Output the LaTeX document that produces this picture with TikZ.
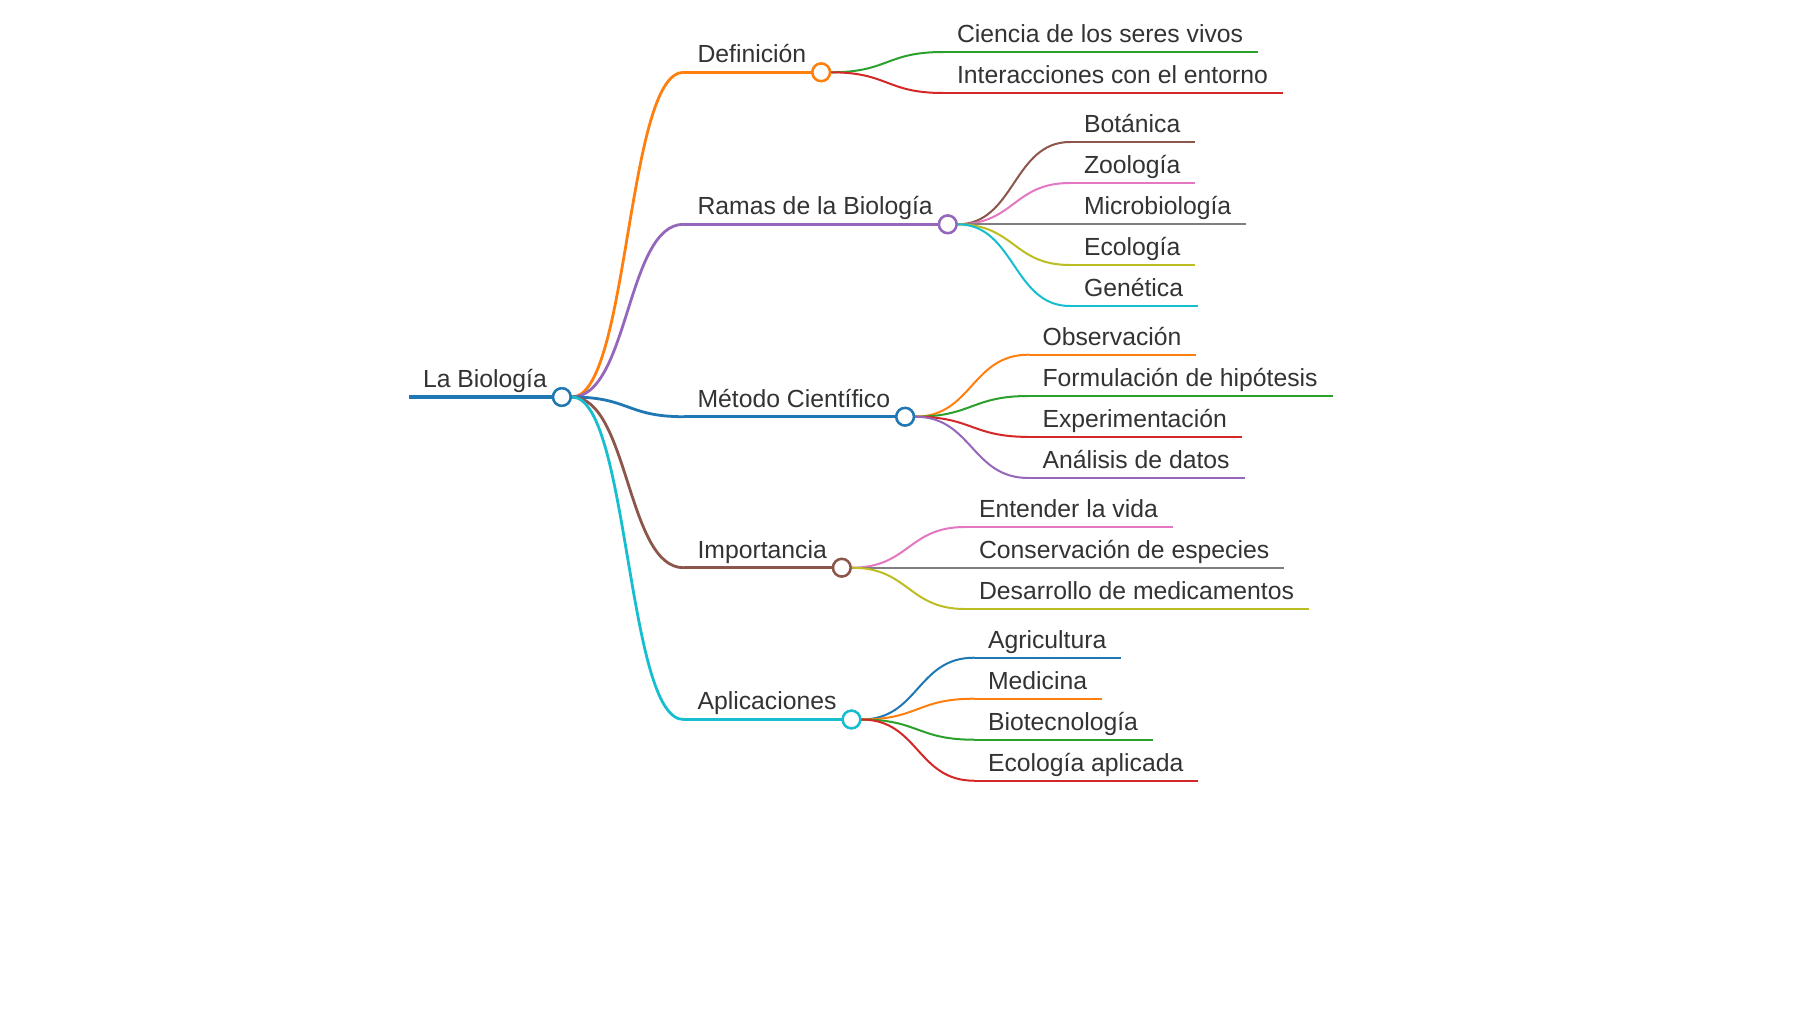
\documentclass[tikz,border=0pt]{standalone}
\usepackage{fontspec}
\setmainfont{Liberation Sans}
\usetikzlibrary{calc}
\definecolor{mmblue}{HTML}{1F77B4}
\definecolor{mmorange}{HTML}{FF7F0E}
\definecolor{mmgreen}{HTML}{2CA02C}
\definecolor{mmred}{HTML}{D62728}
\definecolor{mmpurple}{HTML}{9467BD}
\definecolor{mmbrown}{HTML}{8C564B}
\definecolor{mmpink}{HTML}{E377C2}
\definecolor{mmgray}{HTML}{7F7F7F}
\definecolor{mmolive}{HTML}{BCBD22}
\definecolor{mmcyan}{HTML}{17BECF}
\definecolor{txt}{HTML}{333333}
\newcommand\mmnode[6]{%
  \coordinate (#1s) at (#2,#3);
  \node[lbl] (#1) at (#2+14,#3-9.7) {#6};
  \coordinate (#1e) at ($(#1.east |- #1s)+(15,0)$);
  \draw[#5,#4] (#1s) -- (#1e);
}
\newcommand\mmhub[2]{\node[hub=#2] (#1c) at (#1e) {};}
\newcommand\mmlink[4]{\draw[#3,#4,line cap=round] (#1) .. controls +(57,0) and +(-57,0) .. (#2);}
\begin{document}
\begin{tikzpicture}[x=1pt,y=-1pt,
  lbl/.style={anchor=base west, inner xsep=0pt, inner ysep=0pt, outer sep=0pt,
    font=\fontsize{24.75}{29}\selectfont, text=txt},
  hub/.style={circle, draw=#1, fill=white, line width=2.4pt, minimum size=17.6pt, inner sep=0pt},
  w0/.style={line width=4pt},
  w1/.style={line width=2.8pt},
  w2/.style={line width=2pt}]
\useasboundingbox[fill=white] (0,0) rectangle (1800,1012);

% root
\mmnode{root}{409}{397}{mmblue}{w0}{La Biología}
\mmhub{root}{mmblue}

% level 1
\mmnode{def}{683.5}{72.3}{mmorange}{w1}{Definición}
\mmlink{rootc.east}{defs}{w1}{mmorange}
\mmhub{def}{mmorange}

\mmnode{ram}{683.5}{224.3}{mmpurple}{w1}{Ramas de la Biología}
\mmlink{rootc.east}{rams}{w1}{mmpurple}
\mmhub{ram}{mmpurple}

\mmnode{met}{683.5}{416.7}{mmblue}{w1}{Método Científico}
\mmlink{rootc.east}{mets}{w1}{mmblue}
\mmhub{met}{mmblue}

\mmnode{imp}{683.5}{567.7}{mmbrown}{w1}{Importancia}
\mmlink{rootc.east}{imps}{w1}{mmbrown}
\mmhub{imp}{mmbrown}

\mmnode{apl}{683.5}{719.5}{mmcyan}{w1}{Aplicaciones}
\mmlink{rootc.east}{apls}{w1}{mmcyan}
\mmhub{apl}{mmcyan}

\node[hub=mmblue] (rootc2) at (rootc) {};

% Definicion children
\mmnode{defa}{943}{52}{mmgreen}{w2}{Ciencia de los seres vivos}
\mmlink{defc.east}{defas}{w2}{mmgreen}
\mmnode{defb}{943}{93}{mmred}{w2}{Interacciones con el entorno}
\mmlink{defc.east}{defbs}{w2}{mmred}
\node[hub=mmorange] (defc2) at (defc) {};

% Ramas children
\mmnode{rama}{1070}{142}{mmbrown}{w2}{Botánica}
\mmlink{ramc.east}{ramas}{w2}{mmbrown}
\mmnode{ramb}{1070}{183}{mmpink}{w2}{Zoología}
\mmlink{ramc.east}{rambs}{w2}{mmpink}
\mmnode{ramcc}{1070}{224.3}{mmgray}{w2}{Microbiología}
\mmlink{ramc.east}{ramccs}{w2}{mmgray}
\mmnode{ramd}{1070}{265}{mmolive}{w2}{Ecología}
\mmlink{ramc.east}{ramds}{w2}{mmolive}
\mmnode{rame}{1070}{306}{mmcyan}{w2}{Genética}
\mmlink{ramc.east}{rames}{w2}{mmcyan}
\node[hub=mmpurple] (ramc2) at (ramc) {};

% Metodo children
\mmnode{meta}{1028.5}{354.7}{mmorange}{w2}{Observación}
\mmlink{metc.east}{metas}{w2}{mmorange}
\mmnode{metb}{1028.5}{396}{mmgreen}{w2}{Formulación de hipótesis}
\mmlink{metc.east}{metbs}{w2}{mmgreen}
\mmnode{metcc}{1028.5}{436.9}{mmred}{w2}{Experimentación}
\mmlink{metc.east}{metccs}{w2}{mmred}
\mmnode{metd}{1028.5}{478}{mmpurple}{w2}{Análisis de datos}
\mmlink{metc.east}{metds}{w2}{mmpurple}
\node[hub=mmblue] (metc2) at (metc) {};

% Importancia children
\mmnode{impa}{965}{527}{mmpink}{w2}{Entender la vida}
\mmlink{impc.east}{impas}{w2}{mmpink}
\mmnode{impb}{965}{567.7}{mmgray}{w2}{Conservación de especies}
\mmlink{impc.east}{impbs}{w2}{mmgray}
\mmnode{impcc}{965}{609}{mmolive}{w2}{Desarrollo de medicamentos}
\mmlink{impc.east}{impccs}{w2}{mmolive}
\node[hub=mmbrown] (impc2) at (impc) {};

% Aplicaciones children
\mmnode{apla}{974}{657.7}{mmblue}{w2}{Agricultura}
\mmlink{aplc.east}{aplas}{w2}{mmblue}
\mmnode{aplb}{974}{698.7}{mmorange}{w2}{Medicina}
\mmlink{aplc.east}{aplbs}{w2}{mmorange}
\mmnode{aplcc}{974}{739.7}{mmgreen}{w2}{Biotecnología}
\mmlink{aplc.east}{aplccs}{w2}{mmgreen}
\mmnode{apld}{974}{780.7}{mmred}{w2}{Ecología aplicada}
\mmlink{aplc.east}{aplds}{w2}{mmred}
\node[hub=mmcyan] (aplc2) at (aplc) {};
\end{tikzpicture}
\end{document}
